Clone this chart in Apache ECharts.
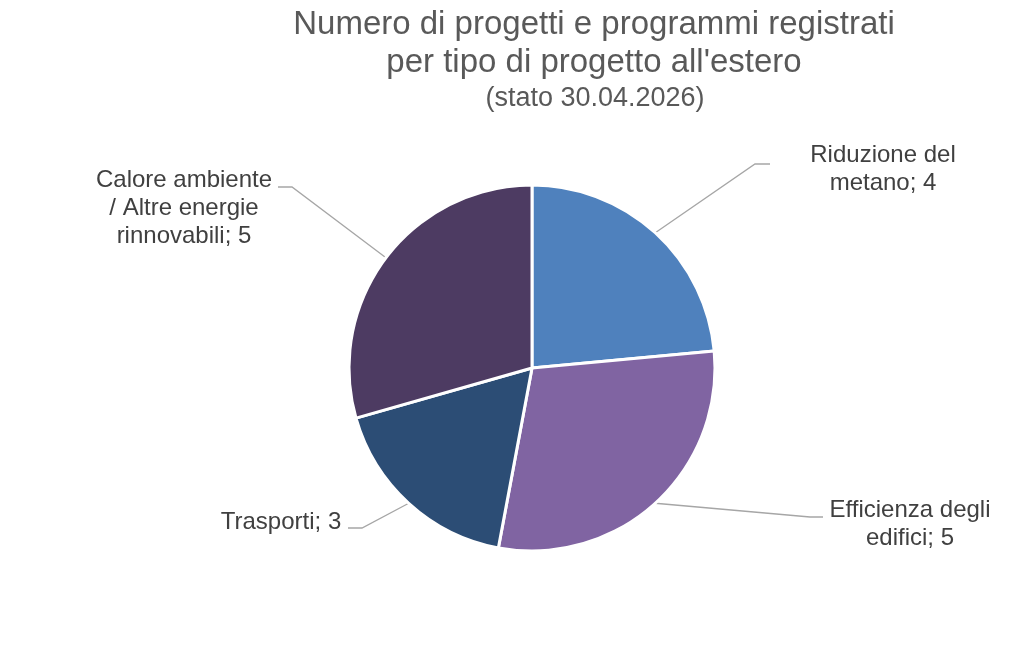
<!DOCTYPE html>
<html>
<head>
<meta charset="utf-8">
<script src="https://cdn.jsdelivr.net/npm/echarts@6/dist/echarts.min.js"></script>
<style>
  html, body { margin: 0; padding: 0; background: #fff; }
  #chart { width: 1024px; height: 645px; }
</style>
</head>
<body>
<div id="chart"></div>
<script>
// categorie (con a capo come nel grafico originale) e valori
const categories = [
  'Riduzione del\nmetano',
  'Efficienza degli\nedifici',
  'Trasporti',
  'Calore ambiente\n/ Altre energie\nrinnovabili'
];
const values = [4, 5, 3, 5];
const colors = ['#4F81BD', '#8064A2', '#2C4D75', '#4D3B62'];

// posizione delle etichette: testo, gomito e fine della linea guida
const labelSpots = [
  { x: 883, y: 169, elbow: [755, 164], end: [770, 164] },
  { x: 910, y: 524, elbow: [810, 517], end: [823, 517] },
  { x: 281, y: 522, elbow: [362, 528], end: [348, 528] },
  { x: 184, y: 208, elbow: [292, 187], end: [278, 187] }
];

const chart = echarts.init(document.getElementById('chart'));
const font = 'Liberation Sans, Arial, sans-serif';

const option = {
  title: [
    {
      text: 'Numero di progetti e programmi registrati\nper tipo di progetto all\'estero',
      left: 594,
      top: 6,
      padding: 0,
      textAlign: 'center',
      textStyle: { fontFamily: font, fontSize: 33, lineHeight: 38, fontWeight: 'normal', color: '#595959' }
    },
    {
      text: '(stato 30.04.2026)',
      left: 595,
      top: 84,
      padding: 0,
      textAlign: 'center',
      textStyle: { fontFamily: font, fontSize: 27, lineHeight: 30, fontWeight: 'normal', color: '#595959' }
    }
  ],
  series: [
    {
      type: 'pie',
      center: [532, 368],
      radius: 183,
      startAngle: 90,
      clockwise: true,
      animation: false,
      itemStyle: { borderColor: '#fff', borderWidth: 3 },
      label: {
        show: true,
        position: 'outside',
        formatter: '{b}; {c}',
        fontFamily: font,
        fontSize: 24,
        lineHeight: 28,
        color: '#404040',
        align: 'center'
      },
      labelLine: {
        show: true,
        length: 20,
        length2: 10,
        lineStyle: { color: '#A6A6A6', width: 1.3 }
      },
      labelLayout: function (params) {
        const s = labelSpots[params.dataIndex];
        const start = params.labelLinePoints ? params.labelLinePoints[0] : s.elbow;
        return {
          x: s.x,
          y: s.y,
          align: 'center',
          verticalAlign: 'middle',
          labelLinePoints: [start, s.elbow, s.end]
        };
      },
      emphasis: { disabled: true },
      data: categories.map((name, i) => ({
        name: name,
        value: values[i],
        itemStyle: { color: colors[i] }
      }))
    }
  ]
};

chart.setOption(option);
</script>
</body>
</html>
